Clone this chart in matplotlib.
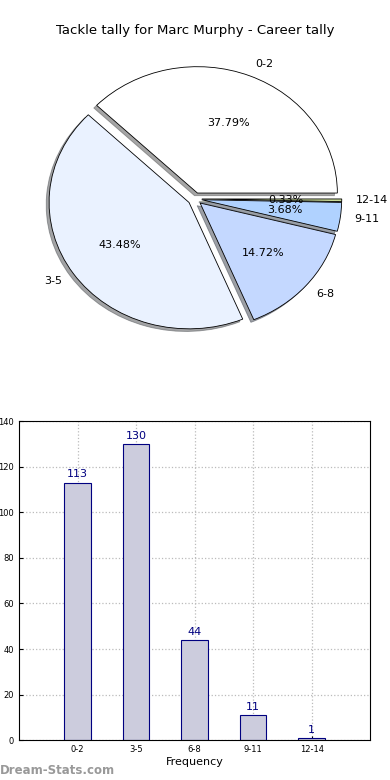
import matplotlib
matplotlib.use("Agg")
import matplotlib.pyplot as plt
import numpy as np

# tackle ranges and how many games fell in each
ranges = ["0-2", "3-5", "6-8", "9-11", "12-14"]
counts = [113, 130, 44, 11, 1]
pie_colors = ["#ffffff", "#eaf2ff", "#c4d8ff", "#b0d2ff", "#ccdd99"]

title = "Tackle tally for Marc Murphy - Career tally"

fig = plt.figure(figsize=(3.9, 7.8), dpi=100)

# pie (old-style, not forced circular)
ax1 = fig.add_axes([0.051, 0.5425, 0.897, 0.405])
wedges, texts, autotexts = ax1.pie(
    counts,
    labels=ranges,
    colors=pie_colors,
    explode=[0.05] * len(counts),
    autopct="%1.2f%%",
    shadow={"ox": -0.015, "oy": -0.015},
    startangle=0,
    wedgeprops=dict(edgecolor="black", linewidth=0.6),
    textprops=dict(fontsize=8),
)
ax1.set_aspect("auto")
ax1.set_xlim(-1.25, 1.25)
ax1.set_ylim(-1.25, 1.25)
fig.text(0.5, 0.961, title, ha="center", va="center", fontsize=9.5)

# bar chart
ax2 = fig.add_axes([0.049, 0.051, 0.9, 0.409])
x = np.arange(len(ranges))
bars = ax2.bar(x, counts, width=0.45, color="#ccccdd", edgecolor="#000080",
               linewidth=0.8, zorder=2)
for xi, c in zip(x, counts):
    ax2.text(xi, c + 1.5, str(c), ha="center", va="bottom", fontsize=8,
             color="#000080")
ax2.set_xlim(-1, 5)
ax2.set_ylim(0, 140)
ax2.set_xticks(x)
ax2.set_xticklabels(ranges, fontsize=6)
ax2.set_yticks(np.arange(0, 141, 20))
ax2.tick_params(axis="y", labelsize=6, direction="in", length=3)
ax2.tick_params(axis="x", direction="in", length=3)
ax2.grid(True, linestyle=":", color="#bbbbbb", linewidth=0.9, zorder=0)
ax2.set_xlabel("Frequency", fontsize=8, labelpad=2)

fig.text(0.0, 0.012, "Dream-Stats.com", fontsize=8.5, color="#999999",
         fontweight="bold", ha="left", va="center")

fig.savefig("out.png", dpi=100)
